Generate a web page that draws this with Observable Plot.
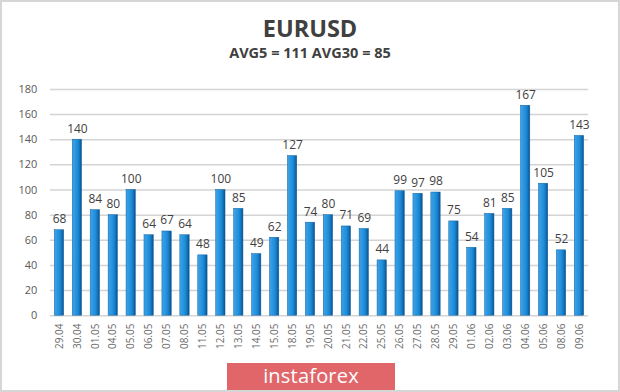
<!DOCTYPE html>
<html>
<head>
<meta charset="utf-8">
<script src="https://cdn.jsdelivr.net/npm/d3@7"></script>
<script src="https://cdn.jsdelivr.net/npm/@observablehq/plot@0.6"></script>
<style>
  html, body { margin: 0; padding: 0; background: #fff; }
  #frame { position: relative; width: 616px; height: 388px; border: 2px solid #d6d6d6; background: #fff; overflow: hidden; font-family: "Open Sans", sans-serif; }
  #title { position: absolute; left: 0; width: 616px; top: 11px; text-align: center; font-size: 23.5px; font-weight: bold; color: #404040; line-height: 30px; }
  #subtitle { position: absolute; left: 0; width: 616px; top: 41px; text-align: center; font-size: 14.5px; font-weight: bold; color: #404040; line-height: 20px; }
  #chart { position: absolute; left: -2px; top: 68px; }
  #logo { position: absolute; left: 225px; top: 361px; width: 168px; height: 28px; background: #e0666a; color: #fff; font-size: 20px; line-height: 26px; text-align: center; font-family: "Open Sans", sans-serif; font-weight: 400; letter-spacing: 0.2px; }
</style>
</head>
<body>
<div id="frame">
  <div id="title">EURUSD</div>
  <div id="subtitle">AVG5 = 111 AVG30 = 85</div>
  <div id="chart"></div>
  <div id="logo">instaforex</div>
</div>
<script>
const dates = ["29.04","30.04","01.05","04.05","05.05","06.05","07.05","08.05","11.05","12.05","13.05","14.05","15.05","18.05","19.05","20.05","21.05","22.05","25.05","26.05","27.05","28.05","29.05","01.06","02.06","03.06","04.06","05.06","08.06","09.06"];
const values = [68,140,84,80,100,64,67,64,48,100,85,49,62,127,74,80,71,69,44,99,97,98,75,54,81,85,167,105,52,143];
const yTicks = [0,20,40,60,80,100,120,140,160,180];

const data = dates.map((d, i) => ({date: d, value: values[i]}));

const plot = Plot.plot({
  width: 620,
  height: 292,
  marginLeft: 50,
  marginRight: 30,
  marginTop: 19,
  marginBottom: 46,
  style: {fontFamily: "'Open Sans', sans-serif", background: "transparent"},
  x: {domain: dates, paddingInner: 0.48, paddingOuter: 0.25, round: false, label: null},
  y: {domain: [0, 180], label: null},
  marks: [
    Plot.gridY(yTicks, {stroke: "#d4d4d4", strokeOpacity: 1, strokeWidth: 1.5}),
    Plot.axisY(yTicks, {tickSize: 0, tickPadding: 13, fontSize: 11, fill: "#595959", label: null}),
    Plot.axisX({tickSize: 0, tickRotate: -90, tickPadding: 8, fontSize: 10, fill: "#6a6a6a", label: null}),
    Plot.barY(data, {x: "date", y: "value", fill: "url(#barGrad)", stroke: "#1060a0", strokeWidth: 0.5}),
    Plot.text(data, {x: "date", y: "value", text: d => String(d.value), dy: -11, fontSize: 12, fill: "#404040"})
  ]
});

const defs = d3.select(plot).insert("defs", ":first-child");
const g = defs.append("linearGradient").attr("id", "barGrad").attr("x1", "0").attr("x2", "1").attr("y1", "0").attr("y2", "0");
g.append("stop").attr("offset", "0%").attr("stop-color", "#3fa3e8");
g.append("stop").attr("offset", "55%").attr("stop-color", "#1e8edb");
g.append("stop").attr("offset", "75%").attr("stop-color", "#1679c3");
g.append("stop").attr("offset", "100%").attr("stop-color", "#0b4f88");

document.getElementById("chart").appendChild(plot);
</script>
</body>
</html>
